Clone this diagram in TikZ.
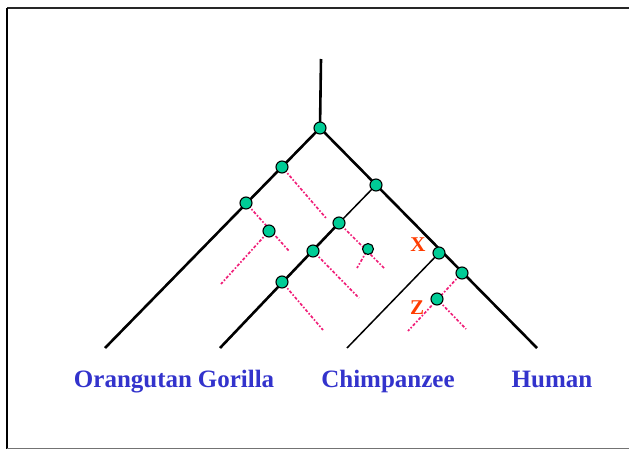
\documentclass[tikz,border=0pt]{standalone}
\usepackage{fontspec}
\setmainfont{Liberation Serif}
\usepackage{tikz}
\definecolor{spname}{RGB}{51,51,204}
\definecolor{genecol}{RGB}{240,30,120}
\definecolor{nodecol}{RGB}{0,204,150}
\definecolor{markcol}{RGB}{255,60,0}

\begin{document}
\begin{tikzpicture}[x=1pt,y=-1pt,
		branch/.style={line width=2.6pt},
		twig/.style={line width=1.5pt},
		gene/.style={genecol, line width=1.7pt, dash pattern=on 1.6pt off 1.8pt on 3pt off 1.8pt},
		dup/.style={circle, draw=black, line width=1.1pt, fill=nodecol, minimum size=12pt, inner sep=0pt},
		spec/.style={spname, font=\fontsize{25}{25}\selectfont\bfseries, anchor=base},
		evlabel/.style={markcol, font=\fontsize{21}{21}\selectfont\bfseries}]
			\useasboundingbox (0,0) rectangle (629,450);
			% frame
			\draw[line width=2pt, black!85] (629,8) -- (7,8);
			\draw[line width=2pt] (7,8) -- (7,449);
			\draw[line width=1pt, black!55] (7,448) -- (629,448);
			% species tree
			\coordinate (top) at (321,59);
			\coordinate (root) at (320,128);
			\coordinate (orang) at (105,348);
			\coordinate (human) at (537,348);
			\coordinate (gor) at (220,348);
			\coordinate (chimp) at (347,348);
			\coordinate (a) at (282,167);
			\coordinate (b) at (246,203);
			\coordinate (c) at (269,231);
			\coordinate (g) at (376,185);
			\coordinate (d) at (339,223);
			\coordinate (k) at (368,249);
			\coordinate (e) at (313,251);
			\coordinate (f) at (282,282);
			\coordinate (x) at (439,253);
			\coordinate (m) at (462,273);
			\coordinate (z) at (437,299);
			% loose ends of the gene lineages
			\coordinate (aend) at (326,218);
			\coordinate (bend) at (289,251);
			\coordinate (cend) at (221,284);
			\coordinate (dend) at (385,269);
			\coordinate (kend) at (357,268);
			\coordinate (eend) at (359,298);
			\coordinate (fend) at (323,330);
			\coordinate (mend) at (408,331);
			\coordinate (zend) at (466,329);
			\draw[branch] (top) -- (root);
			\draw[branch] (root) -- (orang);
			\draw[branch] (root) -- (human);
			\draw[twig] (g) -- (d);
			\draw[branch] (d) -- (gor);
			\draw[twig] (x) -- (chimp);
			\draw[gene] (a) -- (aend);
			\draw[gene] (b) -- (bend);
			\draw[gene] (c) -- (cend);
			\draw[gene] (d) -- (dend);
			\draw[gene] (k) -- (kend);
			\draw[gene] (e) -- (eend);
			\draw[gene] (f) -- (fend);
			\draw[gene] (m) -- (mend);
			\draw[gene] (z) -- (zend);
			% duplication nodes
			\foreach \p in {root,a,b,c,g,d,e,f,x,m,z}
				\node[dup] (n\p) at (\p) {};
			\node[dup, minimum size=11pt] (nk) at (k) {};
			\node[evlabel] (xlab) at (418,245) {X};
			\node[evlabel] (zlab) at (417,308) {Z};
			% species names
			\node[spec] (orangname) at (133,387) {Orangutan};
			\node[spec] (gorname) at (236,387) {Gorilla};
			\node[spec] (chimpname) at (388,387) {Chimpanzee};
			\node[spec] (humanname) at (552,387) {Human};
		\end{tikzpicture}
\end{document}
